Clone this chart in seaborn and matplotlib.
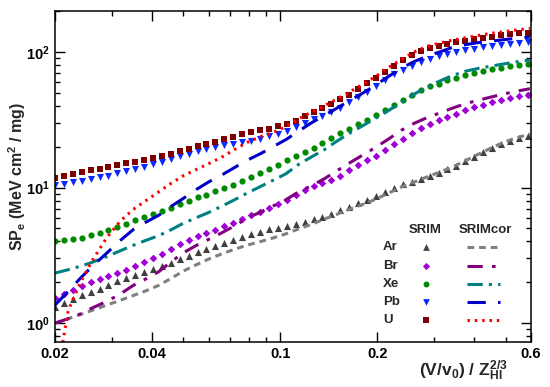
import numpy as np
import matplotlib
matplotlib.use("Agg")
import matplotlib.pyplot as plt
from matplotlib.ticker import FixedLocator, FixedFormatter, LogLocator, LogFormatterSciNotation, NullFormatter
import seaborn as sns

sns.set_theme(style="ticks")
plt.rcParams['font.family'] = ['Liberation Sans', 'DejaVu Sans']
plt.rcParams['font.weight'] = 'bold'
plt.rcParams['mathtext.fontset'] = 'custom'
plt.rcParams['mathtext.rm'] = 'Liberation Sans:bold'
plt.rcParams['mathtext.it'] = 'Liberation Sans:bold'
plt.rcParams['mathtext.bf'] = 'Liberation Sans:bold'

# (V/v0)/Z^(2/3) of the SRIM table points
x_srim = [0.0200, 0.0213, 0.0227, 0.0242, 0.0258, 0.0275, 0.0293, 0.0312, 0.0333, 0.0355,
          0.0378, 0.0403, 0.0429, 0.0458, 0.0488, 0.0520, 0.0554, 0.0590, 0.0629, 0.0671,
          0.0715, 0.0762, 0.0812, 0.0865, 0.0922, 0.0983, 0.1048, 0.1117, 0.1190, 0.1269,
          0.1352, 0.1441, 0.1536, 0.1637, 0.1745, 0.1860, 0.1982, 0.2113, 0.2252, 0.2400,
          0.2558, 0.2727, 0.2906, 0.3098, 0.3302, 0.3519, 0.3751, 0.3998, 0.4261, 0.4542,
          0.4841, 0.5160, 0.5500, 0.5862]

ar_srim = [1.31, 1.40, 1.50, 1.60, 1.71, 1.80, 1.91, 2.03, 2.14, 2.25,
           2.37, 2.50, 2.64, 2.79, 2.96, 3.13, 3.32, 3.50, 3.69, 3.89,
           4.08, 4.30, 4.53, 4.73, 4.92, 5.07, 5.17, 5.36, 5.60, 5.83,
           6.10, 6.42, 6.80, 7.20, 7.65, 8.10, 8.60, 9.25, 9.90, 10.55,
           11.0, 11.5, 12.2, 12.9, 13.6, 14.5, 15.6, 16.8, 18.3, 19.7,
           21.1, 22.2, 23.2, 24.1]
br_srim = [1.53, 1.64, 1.77, 1.88, 2.01, 2.11, 2.22, 2.33, 2.47, 2.63,
           2.81, 3.03, 3.23, 3.52, 3.83, 4.12, 4.38, 4.63, 4.90, 5.22,
           5.52, 5.88, 6.30, 6.65, 7.10, 7.60, 8.15, 8.85, 9.65, 10.2,
           10.8, 11.4, 12.2, 13.4, 14.6, 16.0, 17.2, 19.0, 20.9, 22.9,
           25.3, 27.3, 29.3, 31.2, 33.0, 35.0, 37.0, 39.0, 40.9, 42.6,
           44.3, 45.8, 47.1, 48.2]
xe_srim = [4.03, 4.08, 4.15, 4.26, 4.43, 4.60, 4.83, 5.08, 5.40, 5.72,
           6.07, 6.42, 6.70, 7.08, 7.55, 8.00, 8.45, 8.87, 9.35, 9.95,
           10.5, 11.2, 11.9, 12.8, 13.7, 14.6, 15.9, 17.1, 18.4, 19.6,
           21.4, 23.3, 25.4, 27.2, 29.3, 31.5, 34.0, 37.2, 40.5, 44.0,
           47.8, 52.0, 55.7, 58.2, 61.5, 64.5, 67.5, 69.9, 72.0, 74.2,
           76.3, 78.0, 79.8, 81.3]
pb_srim = [10.4, 10.65, 10.9, 11.2, 11.55, 11.9, 12.25, 12.7, 13.2, 13.7,
           14.25, 14.9, 15.5, 16.25, 17.0, 17.8, 18.65, 19.35, 19.9, 20.4,
           20.95, 21.5, 22.1, 22.9, 23.8, 24.9, 26.1, 27.7, 29.9, 31.9,
           33.6, 35.8, 38.6, 42.4, 46.5, 50.8, 56.0, 62.3, 68.5, 73.7,
           78.5, 83.5, 88.0, 92.4, 96.8, 100.0, 103.0, 105.8, 108.0, 110.0,
           112.3, 114.0, 115.8, 117.3]
u_srim = [11.75, 12.15, 12.55, 13.0, 13.45, 13.8, 14.25, 14.7, 15.1, 15.45,
          15.95, 16.6, 17.05, 17.75, 18.5, 19.3, 20.1, 21.0, 21.8, 22.7,
          23.65, 24.7, 25.6, 26.4, 27.2, 28.2, 29.2, 31.1, 33.4, 36.0,
          38.5, 41.3, 44.6, 48.4, 53.0, 58.5, 64.0, 71.5, 79.0, 87.0,
          94.5, 102.0, 107.0, 110.5, 114.0, 118.0, 121.0, 123.5, 126.0, 128.8,
          132.0, 134.3, 136.5, 138.8]

# SRIMcor curves
x_cor = [0.020, 0.022, 0.024, 0.026, 0.029, 0.032, 0.035, 0.038, 0.042, 0.046,
         0.050, 0.055, 0.060, 0.066, 0.072, 0.079, 0.087, 0.095, 0.104, 0.114,
         0.125, 0.137, 0.150, 0.165, 0.180, 0.198, 0.217, 0.238, 0.261, 0.286,
         0.313, 0.343, 0.376, 0.412, 0.452, 0.495, 0.543, 0.595]
x_u_cor = [0.0205, 0.0212] + x_cor[1:]

ar_cor = [1.00, 1.08, 1.16, 1.24, 1.36, 1.48, 1.60, 1.72, 1.90, 2.15, 2.42, 2.70, 2.97, 3.25,
          3.50, 3.76, 4.00, 4.25, 4.55, 4.95, 5.35, 5.85, 6.35, 6.95, 7.50, 8.20, 9.10, 10.1,
          11.0, 12.0, 13.0, 14.2, 15.8, 17.6, 19.6, 21.6, 23.3, 24.8]
br_cor = [1.00, 1.08, 1.17, 1.29, 1.45, 1.65, 1.90, 2.10, 2.40, 2.85, 3.30, 3.75, 4.15, 4.65,
          5.20, 5.95, 6.60, 7.30, 8.10, 9.30, 10.3, 11.6, 13.3, 15.3, 17.3, 19.8, 22.8, 26.5,
          29.8, 32.8, 35.5, 38.5, 41.5, 44.0, 46.5, 49.0, 51.3, 53.5]
xe_cor = [2.34, 2.48, 2.63, 2.80, 3.10, 3.43, 3.75, 4.05, 4.42, 4.90, 5.45, 6.00, 6.55, 7.30,
          8.10, 9.10, 10.2, 11.3, 12.6, 14.8, 16.8, 19.0, 22.0, 25.3, 28.5, 32.5, 37.0, 42.5,
          49.0, 55.0, 61.0, 67.0, 72.0, 75.5, 78.5, 81.5, 84.5, 87.0]
pb_cor = [1.36, 1.72, 2.15, 2.60, 3.30, 4.10, 4.90, 5.50, 6.25, 7.30, 8.30, 9.70, 11.0, 12.4,
          14.0, 15.9, 17.8, 20.0, 22.5, 26.0, 30.0, 34.0, 38.5, 44.0, 49.5, 57.0, 66.0, 76.0,
          85.0, 93.0, 100.0, 108.0, 113.0, 117.0, 120.0, 123.0, 126.0, 128.5]
u_cor = [0.50, 0.75, 1.25, 2.00, 2.85, 4.30, 5.70, 6.90, 7.90, 9.30, 10.8, 12.2, 13.6, 15.0,
         16.8, 19.0, 21.5, 23.8, 25.5, 28.0, 32.0, 36.0, 40.0, 45.0, 51.0, 57.5, 66.0, 77.0,
         88.0, 100.0, 110.0, 116.0, 122.0, 127.0, 132.0, 137.0, 141.0, 145.0, 149.0]

ions = ['Ar', 'Br', 'Xe', 'Pb', 'U']
srim_y = [ar_srim, br_srim, xe_srim, pb_srim, u_srim]
cor_x = [x_cor, x_cor, x_cor, x_cor, x_u_cor]
cor_y = [ar_cor, br_cor, xe_cor, pb_cor, u_cor]

marker_style = [('^', '#404040', 26), ('D', '#a000d8', 15), ('o', '#008a00', 20),
                ('v', '#0a28ff', 26), ('s', '#800000', 19)]
line_style = [('#808080', (0, (2.2, 1.6))), ('#800080', (0, (5, 3, 1.2, 3))),
              ('#008080', (0, (5, 2, 1, 2))), ('#0000c8', (0, (6, 4))),
              ('#ff0000', (0, (0.8, 1.6)))]

fig, ax = plt.subplots(figsize=(5.5, 3.87), dpi=100)
fig.subplots_adjust(left=0.1, right=0.9655, bottom=0.117, top=0.9716)
ax.set_xscale('log')
ax.set_yscale('log')

for i in range(len(ions)):
    c, ls = line_style[i]
    sns.lineplot(x=cor_x[i], y=cor_y[i], ax=ax, color=c, linestyle=ls, linewidth=2.2)
    m, mc, s = marker_style[i]
    sns.scatterplot(x=x_srim, y=srim_y[i], ax=ax, marker=m, color=mc, s=s, linewidth=0)

ax.set_xlim(0.02, 0.6)
ax.set_ylim(0.73, 200)

ax.xaxis.set_major_locator(FixedLocator([0.02, 0.04, 0.1, 0.2, 0.6]))
ax.xaxis.set_major_formatter(FixedFormatter(['0.02', '0.04', '0.1', '0.2', '0.6']))
ax.xaxis.set_minor_locator(FixedLocator([0.03, 0.05, 0.06, 0.07, 0.08, 0.09, 0.3, 0.4, 0.5]))
ax.xaxis.set_minor_formatter(NullFormatter())
ax.yaxis.set_major_locator(LogLocator(base=10))
ax.yaxis.set_major_formatter(LogFormatterSciNotation())
ax.yaxis.set_minor_locator(LogLocator(base=10, subs=np.arange(2, 10)))
ax.yaxis.set_minor_formatter(NullFormatter())

ax.tick_params(which='both', direction='in', top=True, right=True, colors='black',
               labelsize=10.5, width=1)
ax.tick_params(which='major', length=7)
ax.tick_params(which='minor', length=3.5)
for sp in ax.spines.values():
    sp.set_color('black')
    sp.set_linewidth(1.1)
for lab in ax.get_xticklabels() + ax.get_yticklabels():
    lab.set_fontweight('bold')

ax.set_xlabel(r'(V/v$_\mathdefault{0}$) / Z$_\mathdefault{HI}^\mathdefault{2/3}$',
              fontsize=12.5, fontweight='bold', loc='right')
ax.xaxis.set_label_coords(0.95, -0.052)
ax.set_ylabel(r'SP$_\mathdefault{e}$ (MeV cm$^\mathdefault{2}$ / mg)',
              fontsize=11.5, fontweight='bold')
ax.yaxis.set_label_coords(-0.057, 0.5)

# legend table
tr = ax.transAxes
ax.text(0.777, 0.338, 'SRIM', transform=tr, ha='center', va='center', fontsize=9.5, fontweight='bold')
ax.text(0.905, 0.338, 'SRIMcor', transform=tr, ha='center', va='center', fontsize=9.5, fontweight='bold')
rows = [0.286, 0.229, 0.174, 0.120, 0.066]
for i, ion in enumerate(ions):
    ax.text(0.689, rows[i], ion, transform=tr, ha='left', va='center', fontsize=9.5, fontweight='bold')
    m, mc, s = marker_style[i]
    ax.scatter([0.779], [rows[i]], transform=tr, marker=m, color=mc, s=s * 0.9, linewidth=0)
    c, ls = line_style[i]
    ax.plot([0.866, 0.935], [rows[i], rows[i]], transform=tr, color=c, linestyle=ls, linewidth=2.2)

fig.savefig('out.png', dpi=100)
